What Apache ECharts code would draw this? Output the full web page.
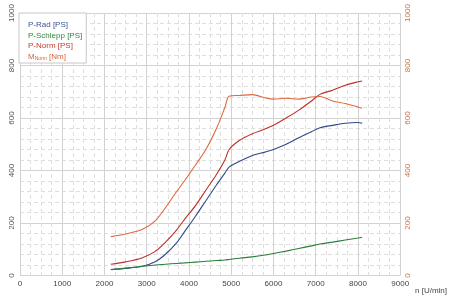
<!DOCTYPE html>
<html><head><meta charset="utf-8">
<script src="https://cdn.jsdelivr.net/npm/echarts@6/dist/echarts.min.js"></script>
<style>html,body{margin:0;padding:0;background:#fff}#c{width:450px;height:300px}</style>
</head><body><div id="c"></div>
<script>
var rpm = [2150, 2500, 2900, 3200, 3450, 3700, 3900, 4150, 4400, 4650, 4850, 4950, 5200, 5500, 5800, 6000, 6300, 6600, 6900, 7100, 7400, 7700, 8000, 8100];
var pRad = [23, 27, 35, 52, 82, 123, 168, 225, 285, 345, 390, 413, 435, 457, 470, 480, 500, 525, 548, 563, 572, 580, 583, 580];
var pSchlepp = [22, 28, 35, 40, 43, 46, 48, 51, 54, 57, 59, 61, 66, 71, 78, 84, 93, 103, 113, 120, 127, 135, 143, 146];
var pNorm = [43, 52, 68, 92, 128, 172, 215, 265, 325, 385, 440, 480, 515, 540, 558, 572, 600, 630, 665, 690, 706, 725, 738, 741];
var mNorm = [148, 158, 176, 208, 260, 318, 362, 420, 480, 560, 640, 683, 686, 689, 677, 672, 675, 672, 680, 682, 665, 655, 642, 637];
var xTicks = [0, 1000, 2000, 3000, 4000, 5000, 6000, 7000, 8000, 9000];
var yTicks = [0, 200, 400, 600, 800, 1000];

function pairs(v){ return rpm.map(function(r,i){ return [r, v[i]]; }); }
var F = 'Liberation Sans, Arial, sans-serif';
var chart = echarts.init(document.getElementById('c'), null, {renderer:'canvas'});
var gridMajor = {show:true, lineStyle:{color:'#d2d2d2', width:1, type:'solid'}};
var gridMinor = {show:true, lineStyle:{color:'#dedede', width:1, type:[4,3]}};
var plain = function(v){ return String(v); };
function yAx(pos, col){
  return {type:'value', position:pos, min:yTicks[0], max:yTicks[yTicks.length-1], interval:200,
    axisLine:{show:false}, axisTick:{show:false},
    axisLabel:{rotate:90, color:col, fontSize:8, fontFamily:F, margin:4, formatter:plain},
    splitLine: pos==='left'?gridMajor:{show:false},
    minorTick:{show:false, splitNumber:5},
    minorSplitLine: pos==='left'?gridMinor:{show:false}};
}
var sty = function(c){ return {color:c, width:1.1}; };
chart.setOption({
  animation:false,
  grid:{left:20, right:46, top:13, bottom:24.5},
  legend:{orient:'vertical', left:19, top:13, icon:'none', itemWidth:0, itemHeight:8, itemGap:2.5,
    padding:[8,4,2,4], backgroundColor:'#fff', borderColor:'#c8c8c8', borderWidth:1,
    textStyle:{fontSize:8, fontFamily:F, rich:{s:{fontSize:5, verticalAlign:'bottom', padding:[4,0,0,0], color:'#d8643a', fontFamily:F}}},
    formatter:function(n){ return n==='MNorm [Nm]' ? 'M{s|Norm} [Nm]' : n; },
    data:[{name:'P-Rad [PS]', textStyle:{color:'#3b5590'}},
          {name:'P-Schlepp [PS]', textStyle:{color:'#2f8a3a'}},
          {name:'P-Norm [PS]', textStyle:{color:'#c33a2e'}},
          {name:'MNorm [Nm]', textStyle:{color:'#d8643a'}}]},
  xAxis:{type:'value', min:xTicks[0], max:xTicks[xTicks.length-1], interval:1000,
    name:'n [U/min]', nameLocation:'end', nameGap:2,
    nameTextStyle:{color:'#444', fontSize:8, fontFamily:F, verticalAlign:'top', align:'left', padding:[11,0,0,0]},
    axisLine:{show:false}, axisTick:{show:false},
    axisLabel:{color:'#444', fontSize:8, fontFamily:F, margin:4, formatter:plain},
    splitLine:gridMajor, minorTick:{show:false, splitNumber:4}, minorSplitLine:gridMinor},
  yAxis:[yAx('left','#555'), yAx('right','#cc7444')],
  series:[
    {name:'P-Rad [PS]', type:'line', yAxisIndex:0, data:pairs(pRad), smooth:0.3, showSymbol:false, lineStyle:sty('#2e4a86'), itemStyle:{color:'#2e4a86'}},
    {name:'P-Schlepp [PS]', type:'line', yAxisIndex:0, data:pairs(pSchlepp), smooth:0.3, showSymbol:false, lineStyle:sty('#2a7e3a'), itemStyle:{color:'#2a7e3a'}},
    {name:'P-Norm [PS]', type:'line', yAxisIndex:0, data:pairs(pNorm), smooth:0.3, showSymbol:false, lineStyle:sty('#be2f28'), itemStyle:{color:'#be2f28'}},
    {name:'MNorm [Nm]', type:'line', yAxisIndex:1, data:pairs(mNorm), smooth:0.3, showSymbol:false, lineStyle:sty('#e0683e'), itemStyle:{color:'#e0683e'}}
  ]
});
</script></body></html>
